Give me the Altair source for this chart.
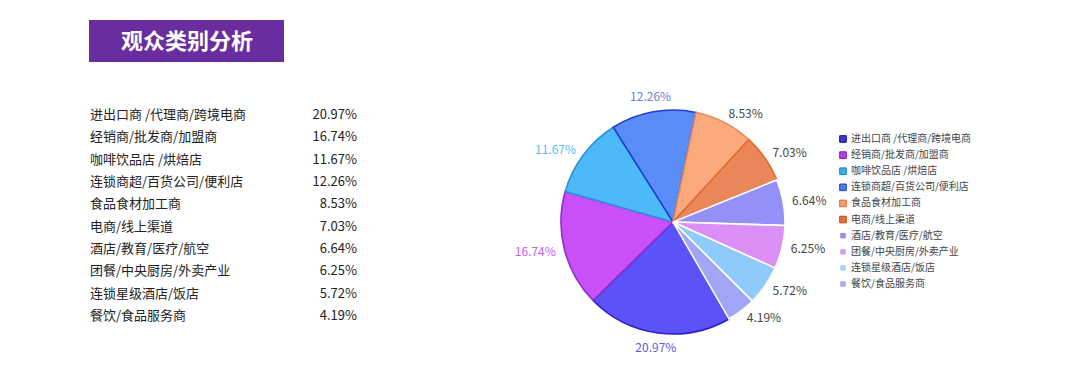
import math
import altair as alt
import pandas as pd

categories = [
    "进出口商 /代理商/跨境电商",
    "经销商/批发商/加盟商",
    "咖啡饮品店 /烘焙店",
    "连锁商超/百货公司/便利店",
    "食品食材加工商",
    "电商/线上渠道",
    "酒店/教育/医疗/航空",
    "团餐/中央厨房/外卖产业",
    "连锁星级酒店/饭店",
    "餐饮/食品服务商",
]
values = [20.97, 16.74, 11.67, 12.26, 8.53, 7.03, 6.64, 6.25, 5.72, 4.19]
value_labels = ["20.97%", "16.74%", "11.67%", "12.26%", "8.53%", "7.03%", "6.64%", "6.25%", "5.72%", "4.19%"]
slice_colors = ["#5b52f7", "#c94ff8", "#4cbaf8", "#5a8cf8", "#fcaa7d", "#e9875a",
                "#9390f7", "#dc90f7", "#8ecafa", "#a0a5f5"]
slice_strokes = ["#2a22c8", "#8f2fc8", "#3190d8", "#1c3fd0", "#ee8a55", "#e0692e",
                 "#ffffff", "#ffffff", "#ffffff", "#ffffff"]
label_colors = ["#6359e0", "#c462ea", "#5bbcf2", "#6d7ee0", "#444444", "#444444",
                "#444444", "#444444", "#444444", "#444444"]
legend_colors = ["#3e35d9", "#b43ef0", "#3ab0ee", "#4a78f0", "#f59a6a", "#e87038",
                 "#8f8fe8", "#d2a0f0", "#a8d4f5", "#a8acf0"]
legend_strokes = ["#1a168f", "#7a22a8", "#2280b8", "#2048b8", "#d0703e", "#b8501e",
                  "#8f8fe8", "#d2a0f0", "#a8d4f5", "#a8acf0"]
legend_sizes = [44, 44, 44, 44, 44, 44, 20, 20, 20, 20]
title_text = "观众类别分析"

df = pd.DataFrame({
    "idx": list(range(len(categories))),
    "cat": categories,
    "val": values,
    "lab": value_labels,
    "fill": slice_colors,
    "stroke": slice_strokes,
    "lcol": label_colors,
    "legfill": legend_colors,
    "legstroke": legend_strokes,
    "legsize": legend_sizes,
})

FONT = "Noto Sans CJK SC"
start = math.radians(150)
theta_scale = alt.Scale(domain=[0, 100], range=[start, start + 2 * math.pi])
cx, cy = 665, 214

base = alt.Chart(df)

title_box = alt.Chart(pd.DataFrame({"t": [title_text]})).mark_rect(color="#6a2da0").encode(
    x=alt.value(81), x2=alt.value(276), y=alt.value(12), y2=alt.value(54)
)
title_lbl = alt.Chart(pd.DataFrame({"t": [title_text]})).mark_text(
    font=FONT, fontSize=22, fontWeight="bold", color="white", align="center", baseline="middle"
).encode(x=alt.value(179), y=alt.value(34), text="t:N")

table_y = alt.Y("cat:N", sort=categories, axis=None,
                scale=alt.Scale(type="point", range=[107, 308], padding=0))
table_lbl = base.mark_text(font=FONT, fontSize=13, color="#222222", align="left", baseline="middle").encode(
    x=alt.value(82), y=table_y, text="cat:N")
table_val = base.mark_text(font=FONT, fontSize=13, color="#222222", align="right", baseline="middle").encode(
    x=alt.value(349), y=table_y, text="lab:N")

arcs = base.mark_arc(outerRadius=112, strokeWidth=1.6).encode(
    theta=alt.Theta("val:Q", stack=True, scale=theta_scale),
    order=alt.Order("idx:Q"),
    fill=alt.Fill("fill:N", scale=None),
    stroke=alt.Stroke("stroke:N", scale=None),
    x=alt.value(cx), y=alt.value(cy),
)


def label_layer(expr, align, radius):
    return base.transform_calculate(t=expr).mark_text(
        radius=radius, font=FONT, fontSize=12, align=align, baseline="middle"
    ).encode(
        theta=alt.Theta("val:Q", stack=True, scale=theta_scale),
        order=alt.Order("idx:Q"),
        color=alt.Color("lcol:N", scale=None),
        text="t:N",
        x=alt.value(cx), y=alt.value(cy),
    )


lbl_center = label_layer("(datum.idx == 0 || datum.idx == 3) ? datum.lab : ''", "center", 127)
lbl_left = label_layer("(datum.idx == 1 || datum.idx == 2) ? datum.lab : ''", "right", 121)
lbl_right = label_layer("(datum.idx >= 4) ? datum.lab : ''", "left", 121)

leg_y = alt.Y("cat:N", sort=categories, axis=None,
              scale=alt.Scale(type="point", range=[131, 276], padding=0))
leg_sym = base.mark_point(shape="square", filled=True, strokeWidth=1, opacity=1).encode(
    x=alt.value(835), y=leg_y,
    fill=alt.Fill("legfill:N", scale=None),
    stroke=alt.Stroke("legstroke:N", scale=None),
    size=alt.Size("legsize:Q", scale=None),
)
leg_txt = base.mark_text(font=FONT, fontSize=10, color="#444444", align="left", baseline="middle").encode(
    x=alt.value(843), y=leg_y, text="cat:N")

chart = alt.layer(
    title_box, title_lbl, table_lbl, table_val, arcs, lbl_center, lbl_left, lbl_right, leg_sym, leg_txt
).resolve_scale(y="independent").properties(
    width=1064, height=370, autosize="none", padding=0, background="white"
).configure_view(stroke=None)

chart.save("out.html", embed_options={"renderer": "svg", "actions": False})
